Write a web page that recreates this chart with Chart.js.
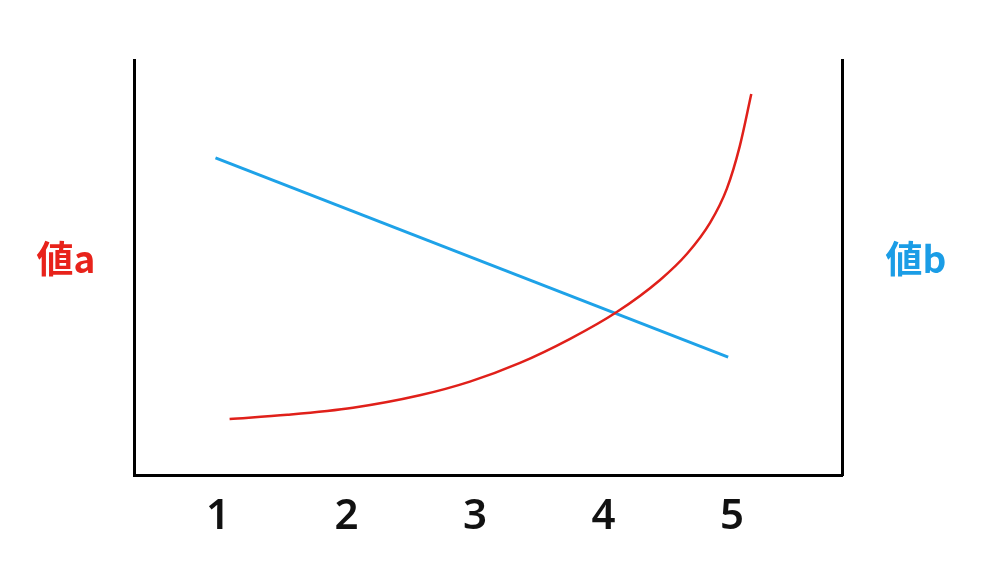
<!DOCTYPE html>
<html>
<head>
<meta charset="utf-8">
<script src="https://cdn.jsdelivr.net/npm/chart.js@4.4.1/dist/chart.umd.min.js"></script>
<style>
  html, body { margin: 0; padding: 0; background: #fff; }
  #wrap { width: 1000px; height: 579px; position: relative; }
</style>
</head>
<body>
<div id="wrap"><canvas id="chart"></canvas></div>
<script>
// x tick labels
const xTicks = [1, 2, 3, 4, 5];

// 値b : straight falling line
const seriesBx = [0.98, 4.97];
const seriesBy = [76.4, 28.4];

// 値a : rising curve
const seriesAx = [1.09, 1.54, 2.05, 2.57, 2.96, 3.35, 3.74, 4.10, 4.44, 4.65, 4.83, 4.96, 5.06, 5.15];
const seriesAy = [13.5, 14.5, 16.2, 19.2, 22.5, 27.0, 32.8, 39.2, 47.0, 53.3, 60.8, 69.0, 79.2, 91.8];

const axisLabels = [
  { text: '値a', color: '#e8231b', side: 'left' },
  { text: '値b', color: '#1b9de6', side: 'right' }
];

const RED = '#e0201a';
const BLUE = '#1ea2e8';

// draws the two side labels next to the axes
const sideLabels = {
  id: 'sideLabels',
  afterDraw(chart) {
    const { ctx, chartArea } = chart;
    const midY = (chartArea.top + chartArea.bottom) / 2 - 9;
    ctx.save();
    ctx.font = 'bold 37px "Noto Sans CJK JP", "Noto Sans", sans-serif';
    ctx.textAlign = 'center';
    ctx.textBaseline = 'middle';
    axisLabels.forEach(l => {
      ctx.fillStyle = l.color;
      const x = l.side === 'left' ? chartArea.left - 68 : chartArea.right + 74;
      ctx.fillText(l.text, x, midY);
    });
    ctx.restore();
  }
};

const ctx = document.getElementById('chart').getContext('2d');

new Chart(ctx, {
  type: 'line',
  data: {
    datasets: [
      {
        label: '値a',
        data: seriesAx.map((x, i) => ({ x: x, y: seriesAy[i] })),
        borderColor: RED,
        borderWidth: 2.5,
        pointRadius: 0,
        cubicInterpolationMode: 'monotone',
        fill: false
      },
      {
        label: '値b',
        data: seriesBx.map((x, i) => ({ x: x, y: seriesBy[i] })),
        borderColor: BLUE,
        borderWidth: 3,
        pointRadius: 0,
        fill: false
      }
    ]
  },
  options: {
    responsive: true,
    maintainAspectRatio: false,
    animation: false,
    layout: {
      padding: { left: 134, right: 158, top: 60, bottom: 0 }
    },
    scales: {
      x: {
        type: 'linear',
        min: 0.346,
        max: 5.856,
        afterBuildTicks: scale => {
          scale.ticks = xTicks.map(v => ({ value: v }));
        },
        afterFit: scale => { scale.height = 104; },
        grid: { display: false, drawTicks: false },
        border: { display: true, color: '#000', width: 3 },
        ticks: {
          color: '#111',
          padding: 17,
          maxRotation: 0,
          font: { family: '"Noto Sans", sans-serif', size: 42, weight: '600' }
        }
      },
      y: {
        position: 'left',
        min: 0,
        max: 100,
        afterFit: scale => { scale.width = 0; },
        grid: { display: false, drawTicks: false },
        border: { display: true, color: '#000', width: 3 },
        ticks: { display: false }
      },
      y2: {
        position: 'right',
        min: 0,
        max: 100,
        afterFit: scale => { scale.width = 0; },
        grid: { display: false, drawTicks: false },
        border: { display: true, color: '#000', width: 3 },
        ticks: { display: false }
      }
    },
    plugins: {
      legend: { display: false },
      tooltip: { enabled: false }
    }
  },
  plugins: [sideLabels]
});
</script>
</body>
</html>
